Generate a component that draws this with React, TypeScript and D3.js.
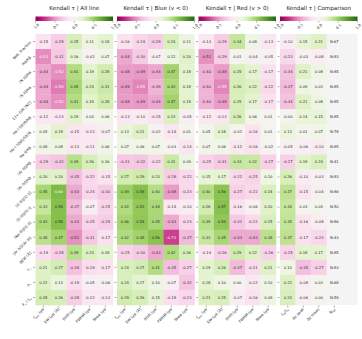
import React from "react";
import * as d3 from "d3";

// Row labels (line ratios / properties)
const rowLabels = [
  "Neb. Fraction",
  "Hα/Hβ",
  "[N II]/Hα",
  "[S II]/Hα",
  "12+ O/H [N2]",
  "He I 5876/Hβ",
  "He I 7065/5876",
  "He II/Hβ",
  "[Ar III]/Hβ",
  "[Ar IV]/Hβ",
  "[O III]/[O II]",
  "[O III]/[O I]",
  "[Ne III]/[O II]",
  "[Ar IV]/[Ar III]",
  "ΔEW [Å]",
  "τ_{+}",
  "σ_{+}",
  "F_{ν} / L_{x}",
];

const lineCols = ["f_{esc} Lyα", "EW Lyα [Å]", "Shift Lyα", "FWHM Lyα", "Skew Lyα"];
const compCols = ["L_{α}/L_{x}", "Δv peak", "Δv mean", "N_{ref}"];

const titles = [
  "Kendall τ | All line",
  "Kendall τ | Blue (v < 0)",
  "Kendall τ | Red (v > 0)",
  "Kendall τ | Comparison",
];

const allLine = [
  [-0.15, -0.28, 0.25, 0.11, 0.18],
  [-0.53, -0.31, 0.16, -0.02, 0.07],
  [-0.44, -0.52, 0.41, 0.19, 0.28],
  [-0.44, -0.58, 0.45, 0.24, 0.31],
  [-0.44, -0.52, 0.41, 0.19, 0.28],
  [-0.12, -0.13, 0.19, 0.03, 0.06],
  [0.05, 0.19, -0.15, -0.13, -0.07],
  [0.08, 0.08, -0.13, -0.11, 0.06],
  [-0.29, -0.32, 0.39, 0.26, 0.16],
  [0.20, 0.20, -0.35, -0.22, -0.15],
  [0.45, 0.60, -0.43, -0.24, -0.30],
  [0.33, 0.58, -0.37, -0.07, -0.25],
  [0.43, 0.58, -0.43, -0.25, -0.29],
  [0.38, 0.47, -0.51, -0.31, -0.17],
  [-0.19, -0.28, 0.39, 0.23, 0.18],
  [0.21, 0.27, -0.34, -0.19, -0.17],
  [0.22, 0.13, -0.19, -0.05, -0.06],
  [0.28, 0.26, -0.28, -0.12, -0.13],
];

const blue = [
  [-0.16, -0.24, -0.29, 0.24, 0.11],
  [-0.44, -0.30, -0.07, 0.12, 0.20],
  [-0.48, -0.49, -0.44, 0.47, 0.18],
  [-0.49, -0.55, -0.39, 0.43, 0.18],
  [-0.48, -0.49, -0.44, 0.47, 0.19],
  [-0.13, -0.10, -0.15, 0.23, -0.05],
  [0.13, 0.21, -0.02, -0.14, 0.01],
  [0.07, 0.06, 0.07, -0.03, -0.14],
  [-0.31, -0.32, -0.22, 0.31, 0.09],
  [0.27, 0.29, 0.23, -0.28, -0.22],
  [0.49, 0.58, 0.40, -0.48, -0.23],
  [0.42, 0.53, 0.44, -0.14, -0.10],
  [0.46, 0.54, 0.45, -0.43, -0.23],
  [0.42, 0.48, 0.56, -0.73, -0.37],
  [-0.25, -0.30, -0.43, 0.42, 0.26],
  [0.24, 0.27, 0.41, -0.35, -0.27],
  [0.24, 0.17, 0.10, -0.07, -0.32],
  [0.29, 0.26, 0.15, -0.18, -0.23],
];

const red = [
  [-0.13, -0.29, 0.34, 0.08, -0.13],
  [-0.51, -0.29, 0.01, -0.04, -0.05],
  [-0.40, -0.48, 0.25, 0.17, -0.17],
  [-0.40, -0.55, 0.26, 0.22, -0.22],
  [-0.40, -0.48, 0.25, 0.17, -0.17],
  [-0.12, -0.13, 0.26, 0.06, 0.01],
  [0.05, 0.18, -0.02, -0.16, 0.01],
  [0.07, 0.06, -0.12, -0.16, -0.02],
  [-0.25, -0.31, 0.33, 0.32, -0.27],
  [0.15, 0.17, -0.22, -0.25, 0.10],
  [0.40, 0.56, -0.27, -0.22, 0.24],
  [0.28, 0.57, -0.16, -0.06, 0.20],
  [0.39, 0.54, -0.31, -0.22, 0.25],
  [0.33, 0.45, -0.43, -0.43, 0.38],
  [-0.14, -0.26, 0.29, 0.22, -0.26],
  [0.19, 0.26, -0.37, -0.21, 0.21],
  [0.18, 0.10, 0.00, -0.12, 0.10],
  [0.23, 0.25, -0.07, -0.16, 0.09],
];

const comparison = [
  [-0.10, 0.15, 0.21],
  [-0.23, -0.03, -0.08],
  [-0.34, 0.21, 0.08],
  [-0.37, 0.09, 0.03],
  [-0.34, 0.21, 0.08],
  [-0.00, 0.14, 0.15],
  [0.13, 0.01, 0.07],
  [-0.05, -0.06, -0.10],
  [-0.27, 0.19, 0.24],
  [0.26, -0.10, -0.03],
  [0.37, -0.15, -0.04],
  [0.34, 0.03, 0.04],
  [0.35, -0.16, -0.08],
  [0.37, -0.17, -0.23],
  [-0.25, 0.18, 0.17],
  [0.10, -0.35, -0.27],
  [0.22, -0.08, 0.03],
  [0.24, -0.06, 0.00],
];

const nRef = [67, 83, 85, 85, 85, 85, 78, 85, 41, 83, 86, 50, 86, 43, 85, 83, 68, 59];

const cbTicks = [-1, -0.5, 0, 0.5, 1];

const FONT = "DejaVu Sans, sans-serif";
const W = 362;
const H = 339;
const panelX = [35.5, 117, 198.5, 280];
const panelW = 77.5;
const nCols = 5;
const top = 34;
const bottom = 305;

const color = (v: number) => d3.interpolatePiYG((v + 1) / 2);

function lum(c: string) {
  const { r, g, b } = d3.rgb(c);
  const f = (x: number) => {
    const s = x / 255;
    return s <= 0.03928 ? s / 12.92 : Math.pow((s + 0.055) / 1.055, 2.4);
  };
  return 0.2126 * f(r) + 0.7152 * f(g) + 0.0722 * f(b);
}

const fmt = (v: number) => {
  const s = v.toFixed(2);
  return s === "0.00" && Object.is(v, -0) ? "-0.00" : s.replace("-", "-");
};

// simple label renderer with _{sub} support
function Label({ text, size }: { text: string; size: number }) {
  const parts = text.split(/(_\{[^}]*\})/).filter((p) => p.length);
  return (
    <>
      {parts.map((p, i) =>
        p.startsWith("_{") ? (
          <tspan key={i} fontSize={size * 0.72} dy={size * 0.25}>
            {p.slice(2, -1)}
          </tspan>
        ) : (
          <tspan key={i} dy={i > 0 && parts[i - 1].startsWith("_{") ? -size * 0.25 : 0}>
            {p}
          </tspan>
        )
      )}
    </>
  );
}

function Panel({
  idx,
  data,
  cols,
  extra,
}: {
  idx: number;
  data: number[][];
  cols: string[];
  extra?: number[];
}) {
  const x0 = panelX[idx];
  const xScale = d3
    .scaleBand<number>()
    .domain(d3.range(nCols))
    .range([x0, x0 + panelW]);
  const yScale = d3
    .scaleBand<number>()
    .domain(d3.range(rowLabels.length))
    .range([top, bottom]);
  const cb = d3.scaleLinear().domain([-1, 1]).range([x0, x0 + panelW]);
  const gid = `cbgrad${idx}`;
  const stops = d3.range(0, 1.0001, 0.05);
  const bw = xScale.bandwidth();
  const bh = yScale.bandwidth();

  return (
    <g>
      <text
        x={x0 + panelW / 2}
        y={10}
        textAnchor="middle"
        fontSize={5.6}
        fontFamily={FONT}
        fill="#222"
      >
        {titles[idx]}
      </text>
      {/* colorbar */}
      <defs>
        <linearGradient id={gid} x1="0" x2="1" y1="0" y2="0">
          {stops.map((t) => (
            <stop key={t} offset={t} stopColor={d3.interpolatePiYG(t)} />
          ))}
        </linearGradient>
      </defs>
      <rect x={x0} y={16.5} width={panelW} height={4.5} fill={`url(#${gid})`} />
      {cbTicks.map((t) => (
        <g key={t}>
          <line x1={cb(t)} x2={cb(t)} y1={21} y2={22.5} stroke="#333" strokeWidth={0.4} />
          <text
            transform={`translate(${cb(t) + 1.5},${27.5}) rotate(-45)`}
            textAnchor="middle"
            fontSize={3.6}
            fontFamily={FONT}
            fill="#333"
          >
            {t.toFixed(1)}
          </text>
        </g>
      ))}
      {/* grey background for missing cells */}
      {extra && (
        <rect
          x={xScale(3)}
          y={top}
          width={bw * 2}
          height={bottom - top}
          fill="#f4f4f4"
        />
      )}
      {data.map((row, r) =>
        row.map((v, c) => {
          const fill = color(v);
          return (
            <g key={`${r}-${c}`}>
              <rect
                x={xScale(c)}
                y={yScale(r)}
                width={bw + 0.3}
                height={bh + 0.3}
                fill={fill}
              />
              <text
                x={(xScale(c) as number) + bw / 2}
                y={(yScale(r) as number) + bh / 2}
                dy="0.35em"
                textAnchor="middle"
                fontSize={3.7}
                fontFamily={FONT}
                fill={lum(fill) < 0.408 ? "#fff" : "#262626"}
              >
                {fmt(v)}
              </text>
            </g>
          );
        })
      )}
      {extra &&
        extra.map((n, r) => (
          <text
            key={`n${r}`}
            x={(xScale(3) as number) + bw / 2}
            y={(yScale(r) as number) + bh / 2}
            dy="0.35em"
            textAnchor="middle"
            fontSize={3.7}
            fontFamily={FONT}
            fill="#262626"
          >
            {`N:${n}`}
          </text>
        ))}
      {/* y ticks */}
      {rowLabels.map((lab, r) => {
        const cy = (yScale(r) as number) + bh / 2;
        return (
          <g key={`yt${r}`}>
            <line x1={x0 - 2.5} x2={x0 - 0.5} y1={cy} y2={cy} stroke="#333" strokeWidth={0.4} />
            {idx === 0 && (
              <text
                transform={`translate(${x0 - 4},${cy + 1}) rotate(-45)`}
                textAnchor="end"
                fontSize={3.7}
                fontFamily={FONT}
                fill="#262626"
              >
                <Label text={lab} size={3.7} />
              </text>
            )}
          </g>
        );
      })}
      {/* x ticks */}
      {cols.map((lab, c) => {
        const cx = (xScale(c) as number) + bw / 2;
        return (
          <g key={`xt${c}`}>
            <line x1={cx} x2={cx} y1={bottom + 0.5} y2={bottom + 2.5} stroke="#333" strokeWidth={0.4} />
            <text
              transform={`translate(${cx + 1},${bottom + 4.5}) rotate(-45)`}
              textAnchor="end"
              fontSize={3.7}
              fontFamily={FONT}
              fill="#262626"
            >
              <Label text={lab} size={3.7} />
            </text>
          </g>
        );
      })}
    </g>
  );
}

export default function App() {
  return (
    <div style={{ position: "fixed", left: 0, top: 0 }}>
      <svg width={W} height={H} style={{ display: "block", background: "#fff" }}>
        <Panel idx={0} data={allLine} cols={lineCols} />
        <Panel idx={1} data={blue} cols={lineCols} />
        <Panel idx={2} data={red} cols={lineCols} />
        <Panel idx={3} data={comparison} cols={compCols} extra={nRef} />
      </svg>
    </div>
  );
}
